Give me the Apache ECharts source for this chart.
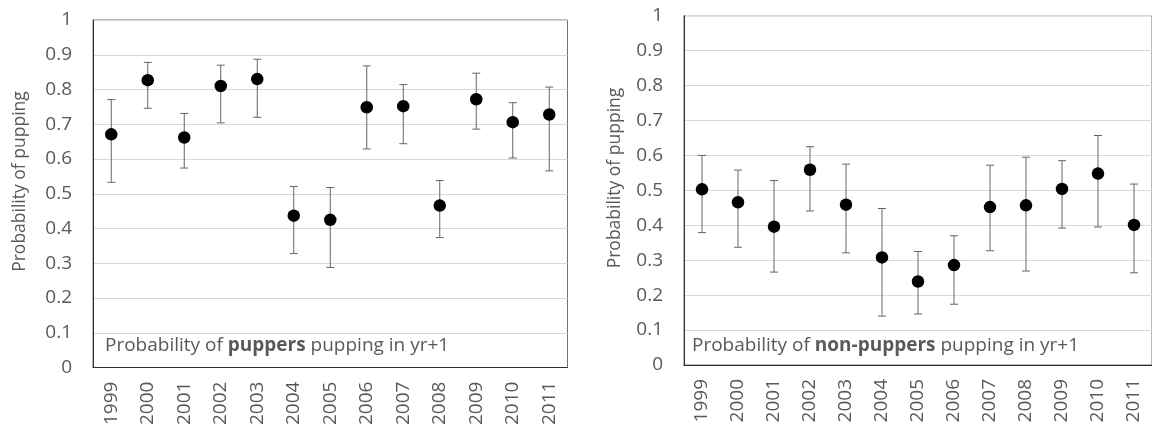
<!DOCTYPE html>
<html>
<head>
<meta charset="utf-8">
<script src="https://cdn.jsdelivr.net/npm/echarts@6/dist/echarts.min.js"></script>
<style>
html,body{margin:0;padding:0;background:#fff;}
#chart{width:1152px;height:428px;}
</style>
</head>
<body>
<div id="chart"></div>
<script>
var years = ['1999','2000','2001','2002','2003','2004','2005','2006','2007','2008','2009','2010','2011'];
var yTicks = [0, 0.1, 0.2, 0.3, 0.4, 0.5, 0.6, 0.7, 0.8, 0.9, 1];

var pupperMean = [0.671, 0.827, 0.662, 0.810, 0.830, 0.437, 0.425, 0.749, 0.752, 0.466, 0.772, 0.706, 0.728];
var pupperLow  = [0.533, 0.746, 0.574, 0.704, 0.720, 0.328, 0.288, 0.629, 0.644, 0.374, 0.686, 0.603, 0.566];
var pupperHigh = [0.771, 0.878, 0.731, 0.870, 0.887, 0.521, 0.518, 0.868, 0.814, 0.538, 0.847, 0.762, 0.807];

var nonMean = [0.503, 0.466, 0.396, 0.559, 0.459, 0.308, 0.239, 0.286, 0.452, 0.457, 0.504, 0.548, 0.401];
var nonLow  = [0.379, 0.337, 0.266, 0.441, 0.321, 0.140, 0.146, 0.174, 0.327, 0.269, 0.392, 0.395, 0.264];
var nonHigh = [0.600, 0.558, 0.528, 0.625, 0.575, 0.448, 0.325, 0.370, 0.572, 0.595, 0.585, 0.657, 0.518];

var FONT = '"Open Sans", sans-serif';
var TXT = '#595959';
var FS = 19;

function errData(low, high) {
  return years.map(function (y, i) { return [i, low[i], high[i]]; });
}
function errRender(params, api) {
  var x = api.value(0);
  var lo = api.coord([x, api.value(1)]);
  var hi = api.coord([x, api.value(2)]);
  var cap = 4;
  var st = { stroke: '#666666', lineWidth: 1 };
  return {
    type: 'group',
    children: [
      { type: 'line', shape: { x1: hi[0], y1: hi[1], x2: lo[0], y2: lo[1] }, style: st },
      { type: 'line', shape: { x1: hi[0] - cap, y1: hi[1], x2: hi[0] + cap, y2: hi[1] }, style: st },
      { type: 'line', shape: { x1: lo[0] - cap, y1: lo[1], x2: lo[0] + cap, y2: lo[1] }, style: st }
    ]
  };
}
function yAxis(idx) {
  return {
    type: 'value', gridIndex: idx, min: yTicks[0], max: yTicks[yTicks.length - 1], interval: 0.1,
    axisLine: { show: true, lineStyle: { color: '#303030', width: 1 } },
    axisTick: { show: false },
    axisLabel: { color: TXT, fontFamily: FONT, fontSize: FS, margin: 21 },
    splitLine: { show: true, lineStyle: { color: '#d9d9d9', width: 1 } }
  };
}
function xAxis(idx) {
  return {
    type: 'category', gridIndex: idx, data: years, boundaryGap: true,
    axisLine: { show: true, lineStyle: { color: '#303030', width: 1 } },
    axisTick: { show: false },
    axisLabel: { color: TXT, fontFamily: FONT, fontSize: FS, rotate: 90, margin: 14, interval: 0 },
    splitLine: { show: false }
  };
}

var chart = echarts.init(document.getElementById('chart'), null, { renderer: 'canvas' });
chart.setOption({
  animation: false,
  backgroundColor: '#ffffff',
  grid: [
    { left: 93, top: 20, width: 474.5, height: 348, show: true, borderColor: '#707070', borderWidth: 1, containLabel: false },
    { left: 684, top: 15.7, width: 474.5, height: 349.3, show: true, borderColor: '#707070', borderWidth: 1, containLabel: false }
  ],
  xAxis: [xAxis(0), xAxis(1)],
  yAxis: [yAxis(0), yAxis(1)],
  graphic: [
    { type: 'text', x: 20, y: 181.5, rotation: Math.PI / 2,
      style: { text: 'Probability of pupping', fill: TXT, font: '17.5px ' + FONT, textAlign: 'center', textVerticalAlign: 'middle' } },
    { type: 'text', x: 615, y: 178, rotation: Math.PI / 2,
      style: { text: 'Probability of pupping', fill: TXT, font: '17.5px ' + FONT, textAlign: 'center', textVerticalAlign: 'middle' } },
    { type: 'text', x: 105, y: 346,
      style: { text: '{a|Probability of }{b|puppers}{a| pupping in yr+1}', textVerticalAlign: 'middle',
        rich: { a: { fill: TXT, fontFamily: FONT, fontSize: FS }, b: { fill: TXT, fontFamily: FONT, fontSize: FS, fontWeight: 'bold' } } } },
    { type: 'text', x: 692, y: 346,
      style: { text: '{a|Probability of }{b|non-puppers}{a| pupping in yr+1}', textVerticalAlign: 'middle',
        rich: { a: { fill: TXT, fontFamily: FONT, fontSize: FS }, b: { fill: TXT, fontFamily: FONT, fontSize: FS, fontWeight: 'bold' } } } }
  ],
  series: [
    { type: 'custom', xAxisIndex: 0, yAxisIndex: 0, renderItem: errRender, data: errData(pupperLow, pupperHigh), z: 2 },
    { type: 'scatter', xAxisIndex: 0, yAxisIndex: 0, data: pupperMean, symbol: 'circle', symbolSize: 12.5,
      itemStyle: { color: '#000000', opacity: 1 }, z: 3 },
    { type: 'custom', xAxisIndex: 1, yAxisIndex: 1, renderItem: errRender, data: errData(nonLow, nonHigh), z: 2 },
    { type: 'scatter', xAxisIndex: 1, yAxisIndex: 1, data: nonMean, symbol: 'circle', symbolSize: 12.5,
      itemStyle: { color: '#000000', opacity: 1 }, z: 3 }
  ]
});
</script>
</body>
</html>
